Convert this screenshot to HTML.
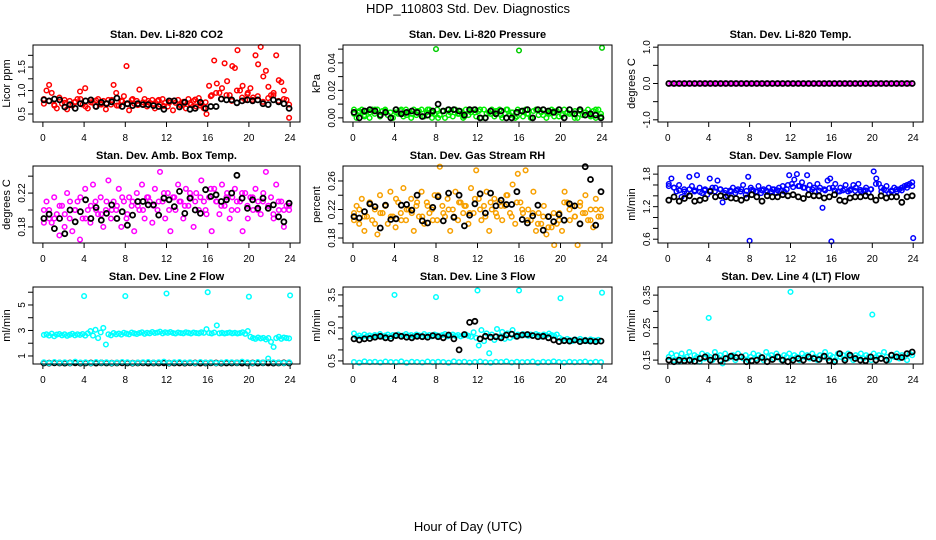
<!DOCTYPE html>
<html><head><meta charset="utf-8"><style>
html,body{margin:0;padding:0;background:#fff;}
svg{display:block;font-family:"Liberation Sans",sans-serif;}
</style></head><body>
<svg id="chart" width="936" height="540" viewBox="0 0 936 540" xmlns="http://www.w3.org/2000/svg">
<rect width="936" height="540" fill="#fff"/>
<text x="468" y="13" text-anchor="middle" font-size="13">HDP_110803  Std. Dev. Diagnostics</text>
<text x="468" y="531" text-anchor="middle" font-size="13">Hour of Day (UTC)</text>
</svg>
<script>
const xTicks=[0,4,8,12,16,20,24];
const co2Red=[0.82,1.00,1.12,0.95,0.70,0.62,0.85,0.72,0.80,0.60,0.78,0.68,0.75,0.82,0.98,0.70,1.05,0.62,0.80,0.74,0.66,0.82,0.72,0.78,0.60,0.80,0.70,1.12,0.95,0.68,0.78,0.88,1.52,0.58,0.80,0.72,0.78,1.02,0.70,0.82,0.66,0.74,0.80,0.62,0.78,0.70,0.82,0.74,0.66,0.78,0.58,0.74,0.80,0.68,0.76,0.62,0.82,0.70,0.78,0.66,0.84,0.72,0.62,0.50,1.10,0.90,1.64,1.15,0.95,1.05,1.58,1.20,0.90,1.52,1.48,1.86,1.00,1.10,0.80,0.95,1.05,0.85,1.75,1.56,1.93,1.30,1.42,1.08,0.90,0.95,1.75,1.22,1.18,1.00,0.80,0.42];
const co2RedB=[0.72,0.78,0.68,0.80,0.74,0.70,0.76,0.82,0.66,0.75,0.79,0.70,0.73,0.80,0.68,0.77,0.71,0.82,0.69,0.75,0.78,0.72,0.80,0.67,0.74,0.79,0.70,0.76,0.73,0.81,0.68,0.75,0.88,0.95,0.82,0.90,0.78,1.00,0.85,0.92,0.80,0.88,0.76,0.84,0.90,0.78,0.82,0.70];
const co2Black=[0.80,0.78,0.82,0.80,0.65,0.70,0.62,0.72,0.78,0.80,0.66,0.75,0.72,0.76,0.84,0.66,0.72,0.68,0.72,0.70,0.70,0.68,0.66,0.60,0.78,0.78,0.65,0.75,0.60,0.62,0.75,0.62,0.66,0.66,0.82,0.80,0.80,0.74,0.78,0.80,0.78,0.80,0.72,0.70,0.80,0.76,0.72,0.62];
const pressGreen=[0.006,0.000,0.004,0.006,0.002,0.005,0.000,0.006,0.003,0.006,0.001,0.005,0.006,0.002,0.004,0.000,0.006,0.003,0.005,0.001,0.006,0.004,0.000,0.006,0.002,0.005,0.006,0.001,0.004,0.006,0.000,0.003,0.006,0.002,0.005,0.000,0.006,0.004,0.001,0.006,0.003,0.005,0.000,0.006,0.002,0.004,0.006,0.001,0.005,0.000,0.006,0.003,0.004,0.006,0.001,0.005,0.006,0.000,0.003,0.006,0.002,0.004,0.000,0.006,0.005,0.001,0.006,0.003,0.000,0.005,0.006,0.002,0.004,0.006,0.000,0.003,0.006,0.001,0.005,0.006,0.002,0.000,0.004,0.006,0.003,0.005,0.000,0.006,0.002,0.004,0.006,0.001,0.005,0.000,0.006,0.003];
const pressGreenB=[0.003,0.005,0.001,0.004,0.006,0.002,0.005,0.000,0.004,0.006,0.002,0.003,0.005,0.001,0.006,0.004,0.000,0.005,0.002,0.006,0.003,0.001,0.005,0.004,0.006,0.000,0.003,0.005,0.002,0.006,0.004,0.001,0.005,0.003,0.000,0.006,0.002,0.004,0.005,0.001,0.006,0.003,0.000,0.005,0.004,0.002,0.006,0.001];
const pressOutHours=[8,16,24];
const pressOutVals=[0.050,0.049,0.051];
const pressBlack=[0.004,0.000,0.005,0.006,0.005,0.002,0.004,0.000,0.006,0.003,0.004,0.005,0.004,0.001,0.002,0.005,0.010,0.005,0.006,0.006,0.005,0.002,0.006,0.006,0.000,0.000,0.005,0.003,0.005,0.000,0.000,0.004,0.005,0.006,0.000,0.006,0.006,0.005,0.004,0.006,0.000,0.006,0.003,0.006,0.002,0.003,0.002,0.000];
const tempMagenta=[0,0,0,0,0,0,0,0,0,0,0,0,0,0,0,0,0,0,0,0,0,0,0,0,0,0,0,0,0,0,0,0,0,0,0,0,0,0,0,0,0,0,0,0,0,0,0,0,0,0,0,0,0,0,0,0,0,0,0,0,0,0,0,0,0,0,0,0,0,0,0,0,0,0,0,0,0,0,0,0,0,0,0,0,0,0,0,0,0,0,0,0,0,0,0,0];
const tempBlack=[0,0,0,0,0,0,0,0,0,0,0,0,0,0,0,0,0,0,0,0,0,0,0,0,0,0,0,0,0,0,0,0,0,0,0,0,0,0,0,0,0,0,0,0,0,0,0,0];
const ambMagenta=[0.20,0.21,0.19,0.185,0.215,0.195,0.17,0.205,0.18,0.22,0.19,0.175,0.20,0.21,0.165,0.19,0.225,0.20,0.185,0.23,0.21,0.195,0.215,0.18,0.20,0.235,0.19,0.21,0.20,0.225,0.18,0.21,0.19,0.215,0.205,0.175,0.22,0.20,0.23,0.19,0.215,0.21,0.185,0.225,0.20,0.245,0.21,0.19,0.22,0.175,0.215,0.20,0.23,0.21,0.19,0.225,0.205,0.215,0.18,0.22,0.20,0.235,0.21,0.195,0.215,0.175,0.225,0.21,0.195,0.23,0.205,0.22,0.19,0.215,0.225,0.20,0.21,0.175,0.22,0.19,0.215,0.20,0.225,0.21,0.195,0.22,0.245,0.205,0.215,0.19,0.23,0.20,0.21,0.18,0.205,0.20];
const ambMagentaB=[0.185,0.200,0.190,0.205,0.195,0.210,0.200,0.215,0.190,0.205,0.200,0.195,0.210,0.200,0.205,0.215,0.195,0.210,0.205,0.200,0.215,0.205,0.210,0.220,0.200,0.215,0.210,0.205,0.220,0.210,0.215,0.200,0.225,0.210,0.205,0.215,0.200,0.210,0.220,0.205,0.215,0.200,0.210,0.205,0.195,0.210,0.200,0.205];
const ambBlack=[0.19,0.195,0.178,0.19,0.172,0.200,0.186,0.198,0.212,0.19,0.203,0.188,0.196,0.206,0.19,0.198,0.182,0.194,0.210,0.210,0.206,0.206,0.194,0.214,0.212,0.204,0.222,0.196,0.214,0.200,0.196,0.224,0.216,0.218,0.210,0.212,0.220,0.241,0.214,0.202,0.212,0.202,0.214,0.202,0.206,0.192,0.186,0.208];
const rhOrange=[0.215,0.225,0.20,0.235,0.19,0.21,0.23,0.205,0.22,0.185,0.24,0.215,0.225,0.20,0.245,0.21,0.195,0.23,0.215,0.25,0.205,0.22,0.235,0.19,0.225,0.21,0.245,0.20,0.23,0.215,0.22,0.24,0.205,0.28,0.225,0.21,0.235,0.19,0.22,0.245,0.205,0.23,0.215,0.225,0.20,0.25,0.215,0.275,0.235,0.205,0.225,0.245,0.19,0.22,0.235,0.21,0.23,0.205,0.225,0.24,0.215,0.255,0.20,0.27,0.23,0.215,0.275,0.22,0.205,0.245,0.19,0.215,0.20,0.225,0.185,0.21,0.195,0.17,0.20,0.215,0.19,0.245,0.23,0.205,0.225,0.21,0.17,0.23,0.215,0.24,0.205,0.22,0.195,0.235,0.21,0.22];
const rhOrangeB=[0.205,0.220,0.210,0.230,0.200,0.215,0.225,0.210,0.235,0.205,0.220,0.215,0.230,0.210,0.225,0.205,0.240,0.215,0.220,0.210,0.230,0.225,0.215,0.235,0.220,0.210,0.230,0.215,0.225,0.240,0.210,0.230,0.220,0.205,0.215,0.200,0.210,0.195,0.215,0.205,0.230,0.220,0.210,0.225,0.215,0.205,0.220,0.210];
const rhBlack=[0.21,0.208,0.217,0.228,0.224,0.194,0.226,0.206,0.207,0.226,0.227,0.219,0.240,0.204,0.201,0.223,0.238,0.204,0.243,0.209,0.240,0.197,0.212,0.228,0.242,0.215,0.243,0.225,0.233,0.227,0.227,0.245,0.206,0.201,0.211,0.226,0.191,0.210,0.203,0.213,0.205,0.228,0.225,0.200,0.280,0.262,0.198,0.245];
const flowBlue=[1.62,1.72,1.55,1.48,1.60,1.38,1.52,1.45,1.75,1.58,1.48,1.78,1.55,1.45,1.50,1.42,1.72,1.55,1.48,1.68,1.52,1.28,1.45,1.40,1.50,1.55,1.45,1.52,1.48,1.60,1.42,1.75,1.55,1.50,1.48,1.58,1.45,1.52,1.50,1.55,1.48,1.52,1.45,1.55,1.50,1.48,1.52,1.78,1.62,1.70,1.80,1.58,1.65,1.55,1.78,1.60,1.52,1.48,1.62,1.55,1.18,1.50,1.68,1.72,1.55,1.62,1.48,1.55,1.50,1.60,1.48,1.52,1.60,1.55,1.62,1.48,1.50,1.55,1.45,1.52,1.85,1.72,1.62,1.48,1.52,1.58,1.45,1.50,1.55,1.48,1.52,1.55,1.58,1.60,1.62,1.65];
const flowBlueB=[1.58,1.55,1.50,1.48,1.52,1.50,1.47,1.52,1.50,1.55,1.52,1.50,1.48,1.50,1.52,1.49,1.51,1.48,1.50,1.47,1.52,1.50,1.58,1.60,1.56,1.58,1.55,1.52,1.55,1.50,1.52,1.54,1.50,1.48,1.52,1.50,1.49,1.51,1.50,1.52,1.62,1.55,1.50,1.48,1.52,1.50,1.55,1.58];
const flowOutHours=[8,16,24];
const flowOutVals=[0.57,0.56,0.62];
const flowBlack=[1.32,1.38,1.30,1.35,1.40,1.30,1.32,1.35,1.48,1.38,1.40,1.38,1.36,1.35,1.32,1.36,1.42,1.38,1.30,1.40,1.38,1.38,1.42,1.40,1.42,1.38,1.35,1.42,1.40,1.40,1.36,1.38,1.42,1.32,1.30,1.36,1.38,1.38,1.40,1.38,1.32,1.40,1.36,1.38,1.38,1.28,1.38,1.40];
const line2Upper=[2.65,2.70,2.60,2.75,2.55,2.68,2.72,2.62,2.70,2.58,2.66,2.74,2.62,2.70,2.65,2.72,2.60,2.78,2.95,2.60,3.05,2.40,2.85,3.20,1.90,2.70,2.62,2.80,2.70,2.76,2.68,2.82,2.75,2.70,2.84,2.78,2.72,2.80,2.86,2.74,2.82,2.78,2.88,2.80,2.84,2.90,2.78,2.86,2.82,2.88,2.80,2.76,2.84,2.80,2.78,2.86,2.82,2.76,2.84,2.80,2.78,2.86,2.82,3.10,2.80,2.76,2.84,3.40,2.78,2.82,2.76,2.80,2.84,2.78,2.82,2.76,2.80,2.86,2.74,2.95,2.50,2.40,2.35,2.45,2.38,2.42,2.30,2.40,2.10,1.70,2.40,2.50,2.35,2.45,2.40,2.38];
const line2Lower=[0.50,0.45,0.52,0.48,0.50,0.46,0.55,0.48,0.50,0.45,0.52,0.48,0.50,0.46,0.48,0.52,0.50,0.46,0.48,0.50,0.52,0.48,0.50,0.55,0.46,0.50,0.52,0.48,0.50,0.46,0.52,0.48,0.50,0.45,0.48,0.52,0.50,0.48,0.55,0.50,0.46,0.52,0.48,0.80,0.50,0.48,0.46,0.50];
const line2OutHours=[4,8,12,16,20,24];
const line2OutVals=[5.70,5.70,5.90,6.00,5.65,5.75];
const line2Black=[0.45,0.44,0.46,0.45,0.44,0.45,0.46,0.44,0.45,0.45,0.44,0.46,0.45,0.44,0.45,0.46,0.45,0.44,0.45,0.46,0.44,0.45,0.45,0.46,0.44,0.45,0.45,0.44,0.46,0.45,0.44,0.45,0.46,0.45,0.44,0.45,0.45,0.46,0.44,0.45,0.45,0.44,0.46,0.45,0.44,0.45,0.46,0.45];
const line3Upper=[1.75,1.60,1.65,1.58,1.70,1.62,1.66,1.60,1.68,1.63,1.72,1.60,1.65,1.70,1.62,1.68,1.64,1.70,1.62,1.66,1.72,1.64,1.68,1.62,1.70,1.66,1.62,1.72,1.65,1.68,1.62,1.70,1.66,1.64,1.68,1.72,1.62,1.66,1.70,1.64,1.68,1.62,1.66,1.70,1.64,1.60,1.80,1.55,1.20,1.90,1.40,1.75,0.85,1.70,1.45,1.95,1.60,1.82,1.50,1.75,1.55,1.90,1.62,1.70,1.66,1.72,1.68,1.64,1.70,1.66,1.72,1.68,1.62,1.70,1.66,1.74,1.68,1.64,1.70,1.55,1.48,1.42,1.50,1.45,1.40,1.48,1.44,1.50,1.42,1.46,1.40,1.48,1.44,1.42,1.46,1.40];
const line3Lower=[0.45,0.42,0.48,0.44,0.46,0.43,0.47,0.45,0.44,0.48,0.42,0.46,0.45,0.43,0.47,0.44,0.46,0.45,0.42,0.48,0.44,0.46,0.43,0.45,0.47,0.44,0.42,0.46,0.45,0.48,0.43,0.46,0.44,0.45,0.47,0.42,0.46,0.44,0.48,0.45,0.43,0.46,0.44,0.45,0.47,0.43,0.46,0.44];
const line3OutHours=[4,8,12,16,20,24];
const line3OutVals=[3.50,3.40,3.70,3.70,3.35,3.60];
const line3Black=[1.50,1.45,1.50,1.52,1.58,1.62,1.55,1.52,1.65,1.62,1.58,1.55,1.62,1.60,1.58,1.65,1.60,1.55,1.68,1.50,1.00,1.70,2.25,2.30,1.50,1.62,1.58,1.60,1.55,1.68,1.72,1.62,1.68,1.70,1.65,1.60,1.62,1.55,1.45,1.38,1.42,1.40,1.45,1.38,1.42,1.40,1.38,1.40];
const line4Cyan=[0.16,0.17,0.15,0.165,0.145,0.17,0.155,0.16,0.175,0.15,0.165,0.16,0.145,0.17,0.155,0.165,0.16,0.15,0.175,0.16,0.165,0.14,0.17,0.155,0.16,0.165,0.15,0.17,0.16,0.155,0.165,0.15,0.16,0.17,0.155,0.165,0.16,0.15,0.175,0.16,0.165,0.155,0.17,0.16,0.15,0.165,0.16,0.17,0.155,0.165,0.16,0.15,0.17,0.16,0.165,0.155,0.17,0.16,0.15,0.165,0.16,0.175,0.155,0.165,0.16,0.15,0.17,0.16,0.165,0.155,0.17,0.16,0.15,0.165,0.16,0.17,0.155,0.165,0.16,0.15,0.17,0.16,0.165,0.155,0.175,0.16,0.15,0.165,0.16,0.17,0.155,0.165,0.16,0.15,0.17,0.165];
const line4OutHours=[4,12,20];
const line4OutVals=[0.28,0.36,0.29];
const line4Black=[0.150,0.145,0.150,0.148,0.150,0.146,0.155,0.160,0.150,0.160,0.148,0.155,0.162,0.158,0.160,0.145,0.148,0.150,0.158,0.145,0.152,0.160,0.150,0.145,0.150,0.155,0.150,0.160,0.155,0.152,0.162,0.148,0.145,0.170,0.150,0.165,0.155,0.150,0.148,0.160,0.150,0.155,0.150,0.165,0.160,0.158,0.170,0.175];

const svg=document.getElementById('chart');
const NS='http://www.w3.org/2000/svg';
const cols=[[33,300],[343,612],[658,923]];
const rows=[[45,122],[166,243],[287,364]];
function mk(tag,attrs,parent){const e=document.createElementNS(NS,tag);for(const k in attrs)e.setAttribute(k,attrs[k]);parent.appendChild(e);return e;}

function panel(c,r,name,title,ylab,yMin,yMax,yTicks,yLabels,series){
  const [L,R]=cols[c],[T,B]=rows[r];
  const g=mk('g',{},svg);
  
  
  const xs=h=>L+(h+0.96)/25.92*(R-L);
  const ys=v=>B-(v-yMin)/(yMax-yMin)*(B-T);
  const t=mk('text',{x:(L+R)/2,y:T-7,'text-anchor':'middle','font-size':11,'font-weight':'bold'},g);
  t.textContent=title;
  
  
  const yl=mk('text',{x:0,y:0,'text-anchor':'middle','font-size':11,transform:`translate(${L-23},${(T+B)/2}) rotate(-90)`},g);
  yl.textContent=ylab;
  
  
  xTicks.forEach(h=>{
    const x=xs(h);
    mk('line',{x1:x,x2:x,y1:B,y2:B+5,stroke:'#000'},g);
    const tl=mk('text',{x:x,y:B+19,'text-anchor':'middle','font-size':10},g);
    tl.textContent=h;
    
    
  });
  yTicks.forEach(v=>{const y=ys(v);mk('line',{x1:L-5,x2:L,y1:y,y2:y,stroke:'#000'},g);});
  yLabels.forEach(v=>{
    const tl=mk('text',{x:0,y:0,'text-anchor':'middle','font-size':10,transform:`translate(${L-8},${ys(v)}) rotate(-90)`},g);
    tl.textContent=v.toFixed(ylab==='ml/min'&&yMax>4?0:(yMax<0.5?2:1));
    
    
  });
  series.forEach(s=>{
    const n=s.vals.length;
    s.vals.forEach((v,i)=>{
      const h=s.hours?s.hours[i]:0.1+i*23.8/(n-1);
      const p=mk('circle',{cx:xs(h).toFixed(1),cy:ys(v).toFixed(1),r:s.r||2.3,fill:'none',stroke:s.color,'stroke-width':s.sw||1.5},g);
      
      
    });
  });
  const box=mk('rect',{x:L,y:T,width:R-L,height:B-T,fill:'none',stroke:'#000'},g);
  
  
}
const blk=v=>({id:'black',vals:v,color:'#000',r:2.5,sw:1.8});
panel(0,0,'co2','Stan. Dev. Li-820 CO2','Licor ppm',0.33,1.97,[0.5,0.75,1.0,1.25,1.5,1.75],[0.5,1.0,1.5],
  [{id:'red',vals:co2Red,color:'#f00'},{id:'red-b',vals:co2RedB,color:'#f00'},blk(co2Black)]);
panel(1,0,'pressure','Stan. Dev. Li-820 Pressure','kPa',-0.003,0.053,[0,0.01,0.02,0.03,0.04,0.05],[0,0.02,0.04],
  [{id:'green',vals:pressGreen,color:'#0e0'},{id:'green-b',vals:pressGreenB,color:'#0e0'},{id:'green-out',vals:pressOutVals,hours:pressOutHours,color:'#0c0'},blk(pressBlack)]);
panel(2,0,'li820-temp','Stan. Dev. Li-820 Temp.','degrees C',-1.06,1.06,[-1,-0.5,0,0.5,1],[-1,0,1],
  [{id:'magenta',vals:tempMagenta,color:'#f0f'},blk(tempBlack)]);
panel(0,1,'amb-temp','Stan. Dev. Amb. Box Temp.','degrees C',0.161,0.252,[0.18,0.20,0.22,0.24],[0.18,0.22],
  [{id:'magenta',vals:ambMagenta,color:'#f0f'},{id:'magenta-b',vals:ambMagentaB,color:'#f0f'},blk(ambBlack)]);
panel(1,1,'rh','Stan. Dev. Gas Stream RH','percent',0.173,0.281,[0.18,0.20,0.22,0.24,0.26],[0.18,0.22,0.26],
  [{id:'orange',vals:rhOrange,color:'#f7a000'},{id:'orange-b',vals:rhOrangeB,color:'#f7a000'},blk(rhBlack)]);
panel(2,1,'sample-flow','Stan. Dev. Sample Flow','ml/min',0.53,1.95,[0.6,0.8,1.0,1.2,1.4,1.6,1.8],[0.6,1.2,1.8],
  [{id:'blue',vals:flowBlue,color:'#00f'},{id:'blue-b',vals:flowBlueB,color:'#00f'},{id:'blue-out',vals:flowOutVals,hours:flowOutHours,color:'#00f'},blk(flowBlack)]);
panel(0,2,'line2','Stan. Dev. Line 2 Flow','ml/min',0.37,6.41,[1,2,3,4,5,6],[1,3,5],
  [{id:'cyan-upper',vals:line2Upper,color:'#0ff'},blk(line2Black),{id:'cyan-lower',vals:line2Lower,color:'#0ff'},{id:'cyan-out',vals:line2OutVals,hours:line2OutHours,color:'#0ff'}]);
panel(1,2,'line3','Stan. Dev. Line 3 Flow','ml/min',0.36,3.86,[0.5,1.0,1.5,2.0,2.5,3.0,3.5],[0.5,2.0,3.5],
  [{id:'cyan-upper',vals:line3Upper,color:'#0ff'},{id:'cyan-lower',vals:line3Lower,color:'#0ff'},{id:'cyan-out',vals:line3OutVals,hours:line3OutHours,color:'#0ff'},blk(line3Black)]);
panel(2,2,'line4','Stan. Dev. Line 4 (LT) Flow','ml/min',0.138,0.375,[0.15,0.20,0.25,0.30,0.35],[0.15,0.25,0.35],
  [{id:'cyan',vals:line4Cyan,color:'#0ff'},{id:'cyan-out',vals:line4OutVals,hours:line4OutHours,color:'#0ff'},blk(line4Black)]);
</script>
</body></html>
